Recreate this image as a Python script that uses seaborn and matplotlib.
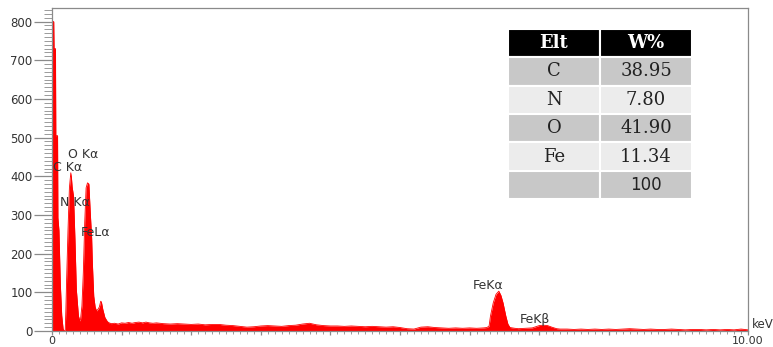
import matplotlib
matplotlib.use("Agg")
import matplotlib.pyplot as plt
import seaborn as sns
import pandas as pd
from matplotlib.ticker import MultipleLocator, FixedLocator, FixedFormatter

# EDS spectrum (energy in keV, counts)
energy = [0.00, 0.025, 0.03, 0.05, 0.055, 0.08, 0.085, 0.10, 0.12, 0.14, 0.16, 0.18,
          0.19, 0.20, 0.21, 0.23, 0.25, 0.27, 0.28, 0.29, 0.31, 0.33, 0.35, 0.38,
          0.40, 0.41, 0.43, 0.45, 0.47, 0.49, 0.51, 0.53, 0.55, 0.57, 0.58, 0.60,
          0.62, 0.64, 0.66, 0.68, 0.70, 0.71, 0.73, 0.76, 0.79, 0.81, 0.85, 0.90,
          0.95, 1.00, 1.05, 1.10, 1.15, 1.20, 1.25, 1.30, 1.35, 1.40, 1.45, 1.50,
          1.60, 1.70, 1.80, 1.90, 2.00, 2.10, 2.20, 2.30, 2.40, 2.50, 2.60, 2.70,
          2.80, 2.90, 3.00, 3.10, 3.20, 3.30, 3.40, 3.50, 3.60, 3.70, 3.80, 3.90,
          4.00, 4.10, 4.20, 4.30, 4.40, 4.50, 4.60, 4.70, 4.80, 4.90, 5.00, 5.10,
          5.20, 5.30, 5.40, 5.50, 5.60, 5.70, 5.80, 5.90, 6.00, 6.10, 6.20, 6.25,
          6.28, 6.30, 6.34, 6.38, 6.42, 6.45, 6.48, 6.52, 6.55, 6.58, 6.65, 6.70,
          6.80, 6.90, 6.95, 7.00, 7.06, 7.12, 7.18, 7.25, 7.30, 7.40, 7.50, 7.60,
          7.70, 7.80, 7.90, 8.00, 8.10, 8.20, 8.30, 8.40, 8.50, 8.60, 8.70, 8.80,
          8.90, 9.00, 9.10, 9.20, 9.30, 9.40, 9.50, 9.60, 9.70, 9.80, 9.90, 10.00]
counts = [800, 800, 730, 730, 505, 505, 293, 260, 120, 40, 5, 0,
          0, 60, 133, 262, 370, 409, 395, 372, 348, 237, 107, 39,
          26, 30, 65, 151, 280, 370, 383, 380, 306, 240, 176, 90,
          62, 52, 56, 62, 77, 75, 56, 35, 26, 22, 19, 20,
          18, 21, 20, 22, 20, 22, 23, 21, 23, 21, 20, 21,
          19, 18, 19, 18, 17, 18, 16, 17, 17, 15, 14, 12,
          10, 11, 13, 14, 13, 12, 14, 15, 18, 20, 16, 14,
          13, 13, 12, 13, 12, 11, 12, 11, 10, 11, 9, 6,
          5, 10, 11, 9, 8, 7, 8, 7, 8, 7, 8, 9,
          13, 39, 73, 95, 103, 92, 73, 39, 18, 9, 7, 6,
          7, 8, 11, 14, 15, 14, 10, 6, 5, 5, 4, 5,
          4, 5, 4, 5, 4, 5, 6, 5, 4, 5, 4, 4,
          5, 4, 3, 4, 4, 3, 4, 3, 4, 3, 5, 3]

# peak labels and where they sit (keV, counts)
peak_names = ["C K\u03b1", "O K\u03b1", "N K\u03b1", "FeL\u03b1", "FeK\u03b1", "FeK\u03b2"]
peak_x = [0.02, 0.23, 0.11, 0.42, 6.05, 6.72]
peak_y = [422, 456, 332, 254, 118, 30]

# composition table
elements = ["C", "N", "O", "Fe", ""]
weights = ["38.95", "7.80", "41.90", "11.34", "100"]

y_ticks = [0, 100, 200, 300, 400, 500, 600, 700, 800]

sns.set_style("ticks")
plt.rcParams["font.family"] = ["DejaVu Sans"]

df = pd.DataFrame({"keV": energy, "counts": counts})

fig = plt.figure(figsize=(7.73, 3.47), dpi=100)
ax = fig.add_axes([52 / 773, 1 - 331 / 347, 696 / 773, 323 / 347])

ax.fill_between(df["keV"], df["counts"], 0, color="#ff0000", lw=0)
sns.lineplot(data=df, x="keV", y="counts", ax=ax, color="#ff0000", lw=0.6,
             estimator=None, sort=False)

ax.set_xlim(0, 10)
ax.set_ylim(0, 835)
ax.set_xlabel("")
ax.set_ylabel("")

grey = "#8a8a8a"
for s in ax.spines.values():
    s.set_visible(True)
    s.set_color(grey)
    s.set_linewidth(0.9)

ax.yaxis.set_major_locator(FixedLocator(y_ticks))
ax.yaxis.set_minor_locator(MultipleLocator(10))
ax.xaxis.set_major_locator(FixedLocator(list(range(11))))
ax.xaxis.set_minor_locator(MultipleLocator(0.1))
ax.xaxis.set_major_formatter(FixedFormatter(["0", "", "", "", "", "", "", "", "", "", "10.00"]))

ax.tick_params(axis="y", which="major", length=13, width=0.9, color=grey,
               labelsize=8.5, labelcolor="#333333", pad=1)
ax.tick_params(axis="y", which="minor", length=6, width=0.6, color=grey)
ax.tick_params(axis="x", which="major", length=3, width=0.9, color=grey,
               labelsize=8, labelcolor="#333333", pad=0.5)
ax.tick_params(axis="x", which="minor", length=2, width=0.6, color=grey)

for name, x, y in zip(peak_names, peak_x, peak_y):
    ax.text(x, y, name, fontsize=9, color="#333333", ha="left", va="center",
            zorder=5)

fig.text(752 / 773, 1 - 325 / 347, "keV", fontsize=8.5, color="#333333",
         ha="left", va="center")

# table inset
cell_text = [["Elt", "W%"]] + [[e, w] for e, w in zip(elements, weights)]
row_cols = ["#c8c8c8", "#ececec", "#c8c8c8", "#ececec", "#c8c8c8"]
cell_colours = [["#000000", "#000000"]] + [[c, c] for c in row_cols]
x0 = (508 - 52) / 696
y0 = (331 - 199) / 323
tbl = ax.table(cellText=cell_text, cellColours=cell_colours, cellLoc="center",
               bbox=[x0, y0, 184 / 696, 170 / 323])
tbl.auto_set_font_size(False)
for (r, c), cell in tbl.get_celld().items():
    cell.set_edgecolor("white")
    cell.set_linewidth(1.5)
    txt = cell.get_text()
    txt.set_fontsize(13)
    txt.set_family("DejaVu Serif")
    txt.set_color("#222222")
    if r == 0:
        txt.set_color("white")
        txt.set_fontweight("bold")
    if r == 5 and c == 1:
        txt.set_family("DejaVu Sans")
        txt.set_fontsize(12)

fig.savefig("out.png", dpi=100)
